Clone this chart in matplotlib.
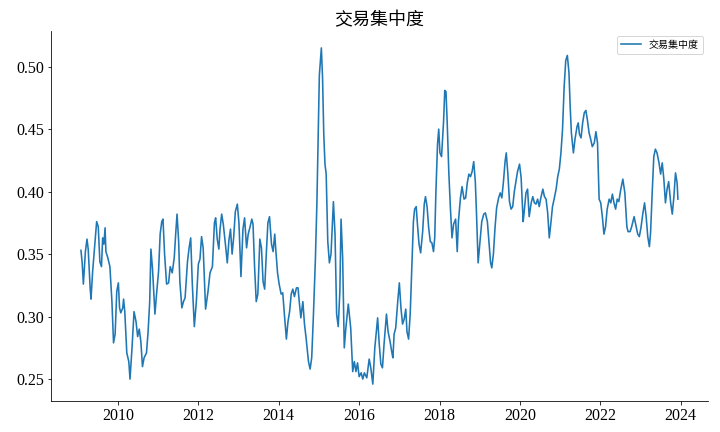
import matplotlib
matplotlib.use("Agg")
import matplotlib.pyplot as plt
from matplotlib.ticker import MultipleLocator, FormatStrFormatter

plt.rcParams["font.family"] = ["Liberation Serif", "Noto Sans CJK SC"]
plt.rcParams["axes.unicode_minus"] = False

# 时间（小数年）
years = [
    2009.08, 2009.11, 2009.14, 2009.19, 2009.23, 2009.26, 2009.31, 2009.33, 2009.37, 2009.41,
    2009.47, 2009.51, 2009.55, 2009.59, 2009.62, 2009.65, 2009.68, 2009.70, 2009.74, 2009.80,
    2009.85, 2009.89, 2009.93, 2009.97, 2010.01, 2010.04, 2010.07, 2010.12, 2010.14, 2010.17,
    2010.22, 2010.27, 2010.30, 2010.35, 2010.40, 2010.45, 2010.49, 2010.53, 2010.57, 2010.61,
    2010.65, 2010.71, 2010.75, 2010.79, 2010.82, 2010.86, 2010.92, 2010.96, 2011.01, 2011.05,
    2011.09, 2011.12, 2011.16, 2011.21, 2011.26, 2011.30, 2011.35, 2011.40, 2011.44, 2011.47,
    2011.51, 2011.54, 2011.59, 2011.63, 2011.67, 2011.73, 2011.77, 2011.81, 2011.85, 2011.90,
    2011.95, 2012.00, 2012.04, 2012.08, 2012.12, 2012.18, 2012.24, 2012.29, 2012.35, 2012.40,
    2012.43, 2012.47, 2012.51, 2012.54, 2012.58, 2012.62, 2012.67, 2012.72, 2012.76, 2012.80,
    2012.84, 2012.88, 2012.92, 2012.97, 2013.01, 2013.06, 2013.11, 2013.15, 2013.20, 2013.24,
    2013.28, 2013.33, 2013.36, 2013.40, 2013.44, 2013.48, 2013.53, 2013.57, 2013.61, 2013.65,
    2013.69, 2013.73, 2013.77, 2013.82, 2013.86, 2013.90, 2013.93, 2013.97, 2014.01, 2014.06,
    2014.10, 2014.14, 2014.19, 2014.23, 2014.27, 2014.31, 2014.35, 2014.39, 2014.44, 2014.48,
    2014.51, 2014.55, 2014.60, 2014.64, 2014.68, 2014.74, 2014.78, 2014.82, 2014.86, 2014.91,
    2014.95, 2014.99, 2015.01, 2015.06, 2015.09, 2015.12, 2015.15, 2015.18, 2015.22, 2015.26,
    2015.30, 2015.34, 2015.36, 2015.40, 2015.44, 2015.48, 2015.52, 2015.55, 2015.59, 2015.63,
    2015.67, 2015.73, 2015.79, 2015.84, 2015.88, 2015.92, 2015.96, 2016.00, 2016.05, 2016.09,
    2016.13, 2016.19, 2016.25, 2016.29, 2016.34, 2016.39, 2016.46, 2016.50, 2016.54, 2016.58,
    2016.62, 2016.68, 2016.72, 2016.77, 2016.81, 2016.84, 2016.87, 2016.91, 2016.96, 2017.00,
    2017.04, 2017.08, 2017.12, 2017.16, 2017.19, 2017.23, 2017.27, 2017.31, 2017.35, 2017.38,
    2017.42, 2017.45, 2017.49, 2017.53, 2017.58, 2017.62, 2017.65, 2017.69, 2017.73, 2017.77,
    2017.81, 2017.85, 2017.88, 2017.91, 2017.95, 2017.98, 2018.01, 2018.05, 2018.10, 2018.13,
    2018.16, 2018.19, 2018.23, 2018.27, 2018.31, 2018.35, 2018.40, 2018.44, 2018.47, 2018.52,
    2018.56, 2018.61, 2018.65, 2018.69, 2018.73, 2018.77, 2018.81, 2018.85, 2018.89, 2018.92,
    2018.96, 2019.00, 2019.05, 2019.10, 2019.14, 2019.19, 2019.23, 2019.27, 2019.30, 2019.34,
    2019.38, 2019.42, 2019.47, 2019.51, 2019.55, 2019.59, 2019.63, 2019.66, 2019.70, 2019.74,
    2019.78, 2019.82, 2019.86, 2019.90, 2019.94, 2019.99, 2020.03, 2020.08, 2020.10, 2020.15,
    2020.19, 2020.23, 2020.28, 2020.32, 2020.36, 2020.40, 2020.44, 2020.48, 2020.52, 2020.57,
    2020.61, 2020.65, 2020.69, 2020.73, 2020.77, 2020.81, 2020.85, 2020.90, 2020.94, 2020.98,
    2021.02, 2021.06, 2021.10, 2021.14, 2021.18, 2021.22, 2021.25, 2021.28, 2021.33, 2021.37,
    2021.42, 2021.45, 2021.48, 2021.52, 2021.56, 2021.60, 2021.64, 2021.68, 2021.72, 2021.76,
    2021.80, 2021.85, 2021.89, 2021.93, 2021.97, 2022.01, 2022.05, 2022.09, 2022.13, 2022.17,
    2022.22, 2022.26, 2022.30, 2022.34, 2022.38, 2022.42, 2022.46, 2022.51, 2022.56, 2022.61,
    2022.66, 2022.69, 2022.74, 2022.78, 2022.84, 2022.89, 2022.93, 2022.97, 2023.01, 2023.06,
    2023.10, 2023.14, 2023.18, 2023.22, 2023.25, 2023.29, 2023.33, 2023.37, 2023.41, 2023.46,
    2023.50, 2023.54, 2023.58, 2023.62, 2023.66, 2023.70, 2023.75, 2023.79, 2023.83, 2023.87,
    2023.91, 2023.93,
]

# 交易集中度
concentration = [
    0.353, 0.343, 0.326, 0.352, 0.362, 0.354, 0.322, 0.314, 0.336, 0.352,
    0.376, 0.372, 0.344, 0.340, 0.363, 0.358, 0.371, 0.352, 0.348, 0.340,
    0.312, 0.279, 0.286, 0.320, 0.327, 0.307, 0.303, 0.307, 0.314, 0.304,
    0.271, 0.264, 0.250, 0.275, 0.304, 0.296, 0.284, 0.290, 0.280, 0.260,
    0.267, 0.271, 0.288, 0.312, 0.354, 0.338, 0.302, 0.318, 0.336, 0.366,
    0.376, 0.378, 0.350, 0.326, 0.327, 0.340, 0.335, 0.347, 0.368, 0.382,
    0.360, 0.328, 0.307, 0.312, 0.315, 0.344, 0.355, 0.363, 0.326, 0.292,
    0.312, 0.342, 0.346, 0.364, 0.355, 0.306, 0.320, 0.335, 0.340, 0.375,
    0.379, 0.362, 0.354, 0.370, 0.382, 0.374, 0.359, 0.343, 0.361, 0.370,
    0.350, 0.364, 0.384, 0.390, 0.375, 0.332, 0.370, 0.379, 0.355, 0.366,
    0.371, 0.378, 0.374, 0.339, 0.312, 0.318, 0.362, 0.355, 0.328, 0.322,
    0.350, 0.375, 0.380, 0.358, 0.352, 0.366, 0.352, 0.335, 0.326, 0.318,
    0.319, 0.302, 0.282, 0.296, 0.304, 0.318, 0.322, 0.316, 0.323, 0.323,
    0.312, 0.299, 0.312, 0.294, 0.283, 0.264, 0.258, 0.267, 0.299, 0.344,
    0.392, 0.462, 0.493, 0.515, 0.491, 0.446, 0.422, 0.414, 0.360, 0.343,
    0.350, 0.379, 0.392, 0.366, 0.302, 0.292, 0.320, 0.378, 0.347, 0.275,
    0.291, 0.310, 0.291, 0.256, 0.264, 0.256, 0.263, 0.252, 0.255, 0.250,
    0.255, 0.251, 0.266, 0.259, 0.246, 0.275, 0.299, 0.278, 0.262, 0.259,
    0.278, 0.302, 0.288, 0.280, 0.272, 0.267, 0.286, 0.291, 0.312, 0.327,
    0.307, 0.294, 0.298, 0.306, 0.288, 0.282, 0.302, 0.339, 0.376, 0.386,
    0.388, 0.374, 0.358, 0.351, 0.368, 0.390, 0.396, 0.388, 0.371, 0.360,
    0.359, 0.352, 0.363, 0.400, 0.438, 0.450, 0.431, 0.428, 0.456, 0.481,
    0.480, 0.456, 0.416, 0.387, 0.363, 0.374, 0.378, 0.352, 0.376, 0.395,
    0.404, 0.394, 0.395, 0.407, 0.414, 0.412, 0.416, 0.424, 0.408, 0.382,
    0.343, 0.358, 0.376, 0.382, 0.383, 0.376, 0.360, 0.343, 0.339, 0.350,
    0.371, 0.387, 0.395, 0.399, 0.395, 0.408, 0.424, 0.431, 0.414, 0.392,
    0.386, 0.388, 0.400, 0.408, 0.416, 0.422, 0.411, 0.376, 0.382, 0.399,
    0.402, 0.380, 0.391, 0.396, 0.391, 0.390, 0.394, 0.388, 0.395, 0.402,
    0.396, 0.394, 0.383, 0.363, 0.375, 0.388, 0.394, 0.402, 0.412, 0.418,
    0.431, 0.450, 0.484, 0.505, 0.509, 0.495, 0.468, 0.447, 0.431, 0.442,
    0.452, 0.455, 0.446, 0.443, 0.455, 0.463, 0.465, 0.457, 0.447, 0.442,
    0.436, 0.439, 0.448, 0.439, 0.394, 0.391, 0.380, 0.366, 0.372, 0.386,
    0.394, 0.391, 0.398, 0.391, 0.386, 0.394, 0.392, 0.402, 0.410, 0.399,
    0.372, 0.368, 0.368, 0.372, 0.380, 0.372, 0.366, 0.364, 0.371, 0.383,
    0.391, 0.380, 0.364, 0.356, 0.367, 0.399, 0.428, 0.434, 0.431, 0.423,
    0.414, 0.423, 0.410, 0.391, 0.402, 0.408, 0.391, 0.382, 0.396, 0.415,
    0.407, 0.394,
]

fig, ax = plt.subplots(figsize=(10, 6), dpi=72)
fig.subplots_adjust(left=0.071, right=0.983, top=0.928, bottom=0.072)

ax.plot(years, concentration, color="#1f77b4", linewidth=1.6, label="交易集中度")

ax.set_title("交易集中度", fontsize=18, pad=6)
ax.xaxis.set_major_locator(MultipleLocator(2))
ax.xaxis.set_major_formatter(FormatStrFormatter("%d"))
ax.tick_params(axis="both", labelsize=16)
ax.spines["top"].set_visible(False)
ax.spines["right"].set_visible(False)
ax.legend(loc="upper right", fontsize=10)

fig.savefig("out.png", dpi=72)
